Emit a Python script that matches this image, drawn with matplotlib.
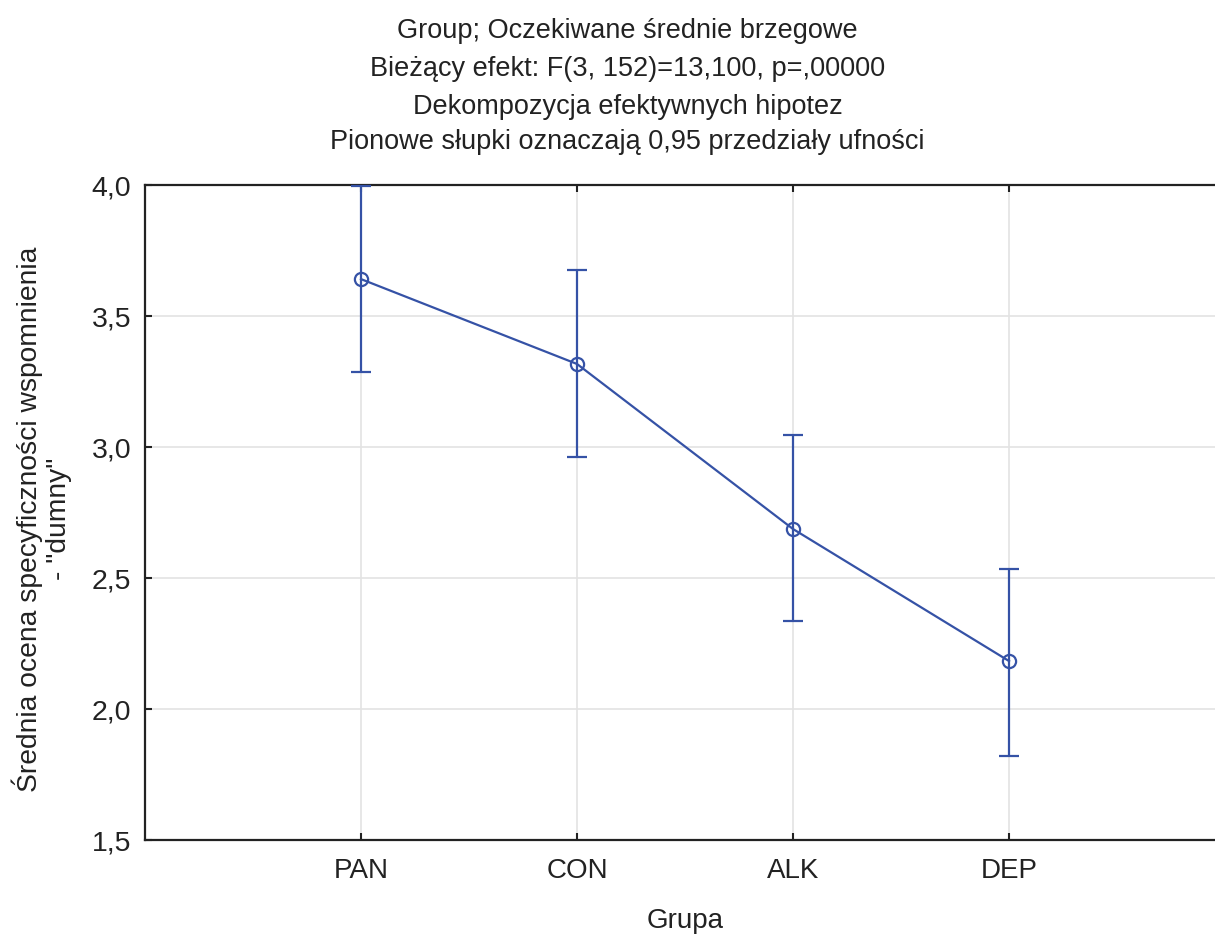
import matplotlib
matplotlib.use("Agg")
import matplotlib.pyplot as plt

groups = ["PAN", "CON", "ALK", "DEP"]
means = [3.641, 3.317, 2.687, 2.183]
ci_upper = [3.998, 3.676, 3.046, 2.535]
ci_lower = [3.286, 2.962, 2.336, 1.821]
y_ticks = [1.5, 2.0, 2.5, 3.0, 3.5, 4.0]
y_tick_labels = ["1,5", "2,0", "2,5", "3,0", "3,5", "4,0"]

title_lines = [
    "Group; Oczekiwane średnie brzegowe",
    "Bieżący efekt: F(3, 152)=13,100, p=,00000",
    "Dekompozycja efektywnych hipotez",
    "Pionowe słupki oznaczają 0,95 przedziały ufności",
]

plt.rcParams["font.family"] = ["Liberation Sans", "DejaVu Sans"]

fig = plt.figure(figsize=(12.15, 9.35), dpi=100)
ax = fig.add_axes([0.1193, 0.1016, 0.889, 0.7005])

blue = "#3552a6"
x = list(range(1, len(groups) + 1))
err_low = [m - lo for m, lo in zip(means, ci_lower)]
err_high = [hi - m for m, hi in zip(means, ci_upper)]

ax.errorbar(x, means, yerr=[err_low, err_high], color=blue, lw=1.6,
            elinewidth=1.6, capsize=7.5, capthick=1.6, marker="o",
            markersize=9.5, markerfacecolor="none", markeredgecolor=blue,
            markeredgewidth=1.6, zorder=3, clip_on=False)

ax.set_xlim(0, 5)
ax.set_ylim(1.5, 4.0)
ax.set_xticks(x)
ax.set_xticklabels(groups)
ax.set_yticks(y_ticks)
ax.set_yticklabels(y_tick_labels)

ax.grid(True, color="#e3e3e3", lw=1.2, zorder=0)
ax.set_axisbelow(True)

for side in ["left", "bottom", "top"]:
    ax.spines[side].set_linewidth(1.6)
    ax.spines[side].set_color("#222222")
ax.spines["right"].set_visible(False)

ax.tick_params(axis="both", direction="in", length=5, width=1.5,
               colors="#222222")
ax.tick_params(axis="x", top=True, pad=13, labelsize=20)
ax.tick_params(axis="y", pad=10, labelsize=20.5)

ax.set_xlabel("Grupa", fontsize=20, color="#222222", labelpad=17)
ax.set_ylabel("Średnia ocena specyficzności wspomnienia\n- \"dumny\"",
              fontsize=20.3, color="#222222", linespacing=1.15)
ax.yaxis.set_label_coords(-0.0675, 0.49)

title_y = [31, 69, 107, 142]
for line, yp in zip(title_lines, title_y):
    fig.text(0.5 + 20 / 1215, 1 - yp / 935, line, ha="center", va="center",
             fontsize=19.5, color="#222222")

fig.savefig("out.png", dpi=100)
